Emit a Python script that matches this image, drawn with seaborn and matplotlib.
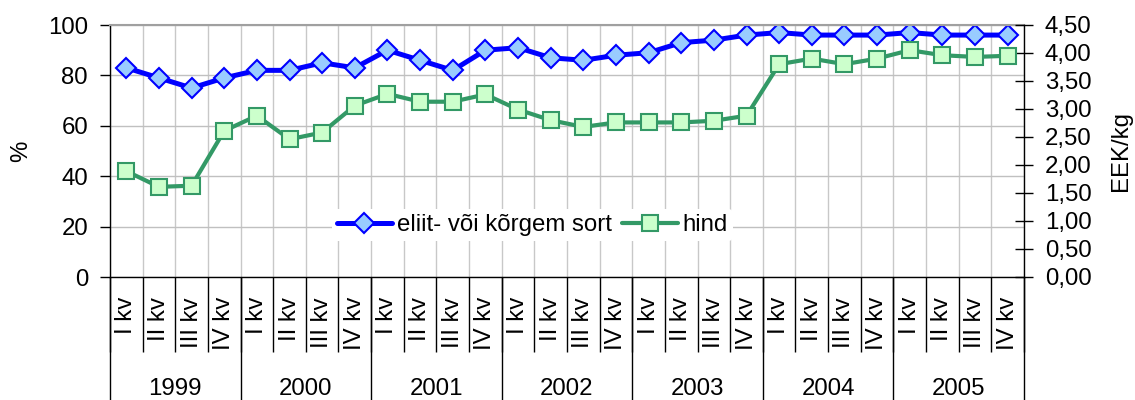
import numpy as np
import pandas as pd
import matplotlib.pyplot as plt
import matplotlib.transforms as mtransforms
import seaborn as sns

# ── andmed ────────────────────────────────────────────────────────────────
years = ['1999', '2000', '2001', '2002', '2003', '2004', '2005']
quarters = ['I kv', 'II kv', 'III kv', 'IV kv']

elite_pct = [83, 79, 75, 79, 82, 82, 85, 83, 90, 86, 82, 90, 91, 87,
             86, 88, 89, 93, 94, 96, 97, 96, 96, 96, 97, 96, 96, 96]
price_eek = [1.89, 1.61, 1.63, 2.61, 2.88, 2.46, 2.58, 3.06, 3.27, 3.13,
             3.13, 3.26, 2.99, 2.80, 2.68, 2.76, 2.76, 2.76, 2.79, 2.88,
             3.80, 3.90, 3.80, 3.90, 4.05, 3.96, 3.93, 3.95]

label_elite = 'eliit- või kõrgem sort'
label_price = 'hind'

df = pd.DataFrame({
    'pos': np.arange(len(elite_pct)),
    'elite': elite_pct,
    'hind': price_eek,
})
tick_labels = [q for _ in years for q in quarters]

# ── stiil ─────────────────────────────────────────────────────────────────
sns.set_style('white')
plt.rcParams['font.family'] = ['Liberation Sans', 'DejaVu Sans']
plt.rcParams.update({'text.color': 'black', 'axes.labelcolor': 'black',
                     'xtick.color': 'black', 'ytick.color': 'black'})
FS = 17.3

fig = plt.figure(figsize=(11.35, 4), dpi=100)
ax = fig.add_axes([0.0969, 0.3075, 0.8053, 0.63])
ax2 = ax.twinx()

sns.lineplot(data=df, x='pos', y='elite', ax=ax, color='#0000FF', linewidth=3.6,
             marker='D', markersize=10, markerfacecolor='#99CCFF',
             markeredgecolor='#0000FF', markeredgewidth=1.5,
             label=label_elite, legend=False)
sns.lineplot(data=df, x='pos', y='hind', ax=ax2, color='#339966', linewidth=3.0,
             marker='s', markersize=11, markerfacecolor='#CCFFCC',
             markeredgecolor='#339966', markeredgewidth=1.5,
             label=label_price, legend=False)

n = len(elite_pct)
ax.set_xlim(-0.5, n - 0.5)
ax.set_ylim(0, 100)
ax2.set_ylim(0, 4.5)

# vasak telg
ax.set_yticks(np.arange(0, 101, 20))
ax.tick_params(axis='y', direction='out', length=7.2, width=1, pad=8.6,
               labelsize=FS, color='black', labelcolor='black', left=True)
ax.set_ylabel('%', fontsize=FS, color='black')
ax.yaxis.set_label_coords(-0.085, 0.5)

# parem telg
rt = np.arange(0, 4.51, 0.5)
ax2.set_yticks(rt)
ax2.set_yticklabels([f'{v:.2f}'.replace('.', ',') for v in rt])
ax2.tick_params(axis='y', direction='inout', length=13, width=1, pad=8.6,
                labelsize=FS, color='black', labelcolor='black', right=True)
ax2.set_ylabel('EEK/kg', fontsize=FS, color='black')
ax2.yaxis.set_label_coords(1.094, 0.5)

# kategooriatelg
ax.set_xticks(np.arange(n))
ax.set_xticklabels(tick_labels, rotation=90, fontsize=FS, color='black')
ax.set_xticks(np.arange(-0.5, n, 1), minor=True)
ax.tick_params(axis='x', which='major', length=0, pad=14.4, bottom=True)
ax.tick_params(axis='x', which='minor', direction='out', length=54, width=1,
               color='black', bottom=True)
ax.set_xlabel('')
ax2.set_xlabel('')

ax.grid(which='major', axis='y', color='#c0c0c0', linewidth=1)
ax.grid(which='minor', axis='x', color='#c8c8c8', linewidth=1)
ax.grid(which='major', axis='x', visible=False)
ax.set_axisbelow(True)

trans = mtransforms.blended_transform_factory(ax.transData, ax.transAxes)
for i, yr in enumerate(years):
    ax.text(4 * i + 1.5, -0.47, yr, transform=trans, ha='center',
            va='baseline', fontsize=FS, color='black')
for b in np.arange(-0.5, n, 4):
    ax.plot([b, b], [0, -0.49], transform=trans, color='black', linewidth=1,
            clip_on=False)

for s in ['left', 'bottom']:
    ax.spines[s].set_color('black')
    ax.spines[s].set_linewidth(1)
ax.spines['top'].set_color('#a0a0a0')
ax.spines['top'].set_linewidth(1.5)
ax.spines['right'].set_visible(False)
for s in ['left', 'bottom', 'top']:
    ax2.spines[s].set_visible(False)
ax2.spines['right'].set_color('black')
ax2.spines['right'].set_linewidth(1)

h1, l1 = ax.get_legend_handles_labels()
h2, l2 = ax2.get_legend_handles_labels()
leg = ax2.legend(h1 + h2, l1 + l2, loc='center', bbox_to_anchor=(0.462, 0.206),
                 ncol=2, fontsize=FS, handlelength=2.3, handletextpad=0.2,
                 columnspacing=0.45, borderpad=0.2, frameon=True,
                 facecolor='white', framealpha=1, numpoints=1)
leg.get_frame().set_linewidth(0)

fig.savefig('out.png', dpi=100)
